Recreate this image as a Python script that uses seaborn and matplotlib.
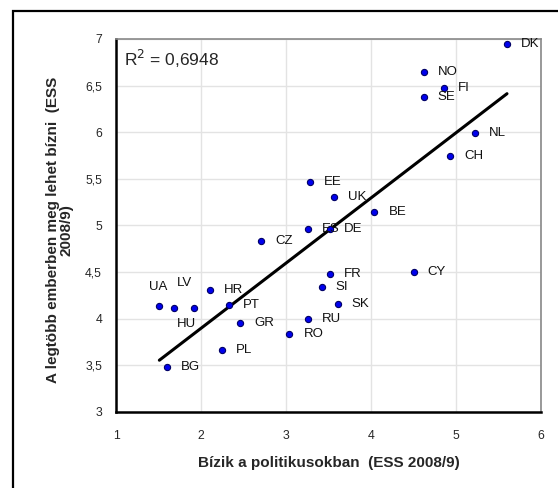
import numpy as np
import pandas as pd
import matplotlib
matplotlib.use("Agg")
import matplotlib.pyplot as plt
import matplotlib.patches as patches
from matplotlib.ticker import FuncFormatter, MultipleLocator
import seaborn as sns

# data
countries = ["DK", "NO", "FI", "SE", "NL", "CH", "BE", "EE", "UK", "ES", "DE", "CZ",
             "FR", "SI", "SK", "RU", "RO", "GR", "PT", "HR", "PL", "BG", "CY",
             "UA", "LV", "HU"]
trust_politicians = [5.60, 4.62, 4.86, 4.62, 5.22, 4.93, 4.04, 3.28, 3.56, 3.26, 3.52, 2.71,
                     3.52, 3.42, 3.61, 3.26, 3.04, 2.46, 2.33, 2.11, 2.25, 1.60, 4.50,
                     1.51, 1.68, 1.92]
trust_people = [6.95, 6.65, 6.47, 6.38, 5.99, 5.74, 5.15, 5.47, 5.31, 4.96, 4.96, 4.83,
                4.48, 4.34, 4.16, 4.00, 3.84, 3.95, 4.15, 4.31, 3.66, 3.48, 4.50,
                4.14, 4.12, 4.11]
r2_text = "R$^2$ = 0,6948"

# label offsets in pixels (default: right of the point)
label_offsets = {"UA": (-1, 19, "center"), "LV": (11, 25, "center"), "HU": (-8, -16, "center")}

df = pd.DataFrame({"country": countries, "x": trust_politicians, "y": trust_people})

sns.set_style("white")
plt.rcParams["font.family"] = ["Liberation Sans", "DejaVu Sans"]

fig = plt.figure(figsize=(5.58, 4.88), dpi=100)
ax = fig.add_axes([116 / 558, 76 / 488, 425 / 558, 373 / 488])

sns.regplot(data=df, x="x", y="y", ax=ax, scatter=False, ci=None,
            line_kws={"color": "black", "linewidth": 2.2})
sns.scatterplot(data=df, x="x", y="y", ax=ax, color="#0000ee", edgecolor="#000066",
                linewidth=0.8, s=20, zorder=5)

for c, xv, yv in zip(countries, trust_politicians, trust_people):
    dx, dy, ha = label_offsets.get(c, (14, 0, "left"))
    ax.annotate(c, (xv, yv), xytext=(dx, dy), textcoords="offset pixels",
                ha=ha, va="center", fontsize=9.5, color="#111111", zorder=6)

ax.text(0.019, 0.946, r2_text, transform=ax.transAxes, fontsize=12.5,
        ha="left", va="center")

ax.set_xlim(1, 6)
ax.set_ylim(3, 7)
ax.xaxis.set_major_locator(MultipleLocator(1))
ax.yaxis.set_major_locator(MultipleLocator(0.5))
fmt = FuncFormatter(lambda v, p: ("%g" % v).replace(".", ","))
ax.xaxis.set_major_formatter(fmt)
ax.yaxis.set_major_formatter(fmt)
ax.grid(True, color="#e3e3e3", linewidth=1.0)
ax.set_axisbelow(True)

ax.tick_params(axis="both", direction="inout", length=8, width=1.5, color="black",
               labelsize=8.8, pad=6)
ax.tick_params(axis="x", pad=9)
for s in ["left", "bottom"]:
    ax.spines[s].set_color("black")
    ax.spines[s].set_linewidth(1.8)
for s in ["top", "right"]:
    ax.spines[s].set_color("#888888")
    ax.spines[s].set_linewidth(1.2)

ax.set_xlabel("Bízik a politikusokban  (ESS 2008/9)", fontsize=11, fontweight="bold")
ax.set_ylabel("A legtöbb emberben meg lehet bízni  (ESS\n2008/9)", fontsize=11,
              fontweight="bold", ha="center", linespacing=1.0)
ax.xaxis.set_label_coords(0.5, -0.136)
ax.xaxis.label.set_va("center")
ax.yaxis.set_label_coords(-0.132, 0.489)
ax.yaxis.label.set_va("center")

# outer frame of the chart area
fig.patches.append(patches.Rectangle((13 / 558, -0.2), 2, (488 - 11) / 488 + 0.2,
                                     transform=fig.transFigure, fill=False,
                                     edgecolor="black", linewidth=1.6))

fig.savefig("out.png", dpi=100)
